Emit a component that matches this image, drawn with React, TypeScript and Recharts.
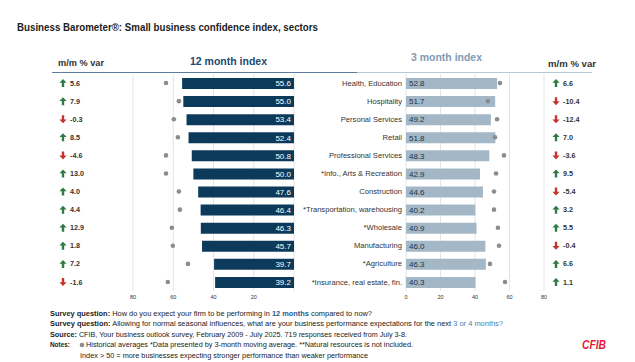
import { ComposedChart, Bar, Line, XAxis, YAxis, CartesianGrid, LabelList } from 'recharts'

// sectors, top to bottom
const categories = [
  'Health, Education',
  'Hospitality',
  'Personal Services',
  'Retail',
  'Professional Services',
  '*Info., Arts & Recreation',
  'Construction',
  '*Transportation, warehousing',
  '*Wholesale',
  'Manufacturing',
  '*Agriculture',
  '*Insurance, real estate, fin.',
]
const index12 = [55.6, 55.0, 53.4, 52.4, 50.8, 50.0, 47.6, 46.4, 46.3, 45.7, 39.7, 39.2]
const hist12 = [63.6, 57.2, 59.7, 57.7, 63.6, 63.6, 57.2, 56.7, 60.7, 60.2, 52.7, 62.7]
const mm12 = [5.6, 7.9, -0.3, 8.5, -4.6, 13.0, 4.0, 4.4, 12.9, 1.8, 7.2, -1.6]
const index3 = [52.8, 51.7, 49.2, 51.8, 48.3, 42.9, 44.6, 40.2, 40.9, 46.0, 46.3, 40.3]
const hist3 = [54.5, 47.5, 52.8, 51.6, 56.8, 52.2, 51.0, 51.0, 53.3, 53.9, 48.7, 57.4]
const mm3 = [6.6, -10.4, -12.4, 7.0, -3.6, 9.5, -5.4, 3.2, 5.5, -0.4, 6.6, 1.1]
const xTicks = [0, 20, 40, 60, 80]

const rows = categories.map((name, i) => ({
  name,
  idx12: index12[i],
  hist12: hist12[i],
  idx3: index3[i],
  hist3: hist3[i],
}))

const GREEN = '#2f7a45'
const RED = '#c4342b'
const FONT = '"Liberation Sans", Arial, sans-serif'

function Arrow({ cx, cy, up }: { cx: number; cy: number; up: boolean }) {
  const s = up ? -1 : 1
  const d = `M${cx - 3.6},${cy + s * 0.2} L${cx},${cy + s * 4} L${cx + 3.6},${cy + s * 0.2} L${cx + 1.2},${cy + s * 0.2} L${cx + 1.2},${cy - s * 4} L${cx - 1.2},${cy - s * 4} L${cx - 1.2},${cy + s * 0.2} Z`
  return <path d={d} fill={up ? GREEN : RED} />
}

function mmTick(values: number[], arrowX: number, textX: number) {
  return (props: any) => {
    const { y, payload } = props
    const i = categories.indexOf(payload.value)
    const v = values[i]
    return (
      <g>
        <Arrow cx={arrowX} cy={y} up={v >= 0} />
        <text x={textX} y={y + 2.6} fontSize={7.2} fontWeight="bold" fill="#333" fontFamily={FONT}>
          {v.toFixed(1)}
        </text>
      </g>
    )
  }
}

const catTick = (props: any) => {
  const { y, payload } = props
  return (
    <text x={122} y={y + 2.6} textAnchor="end" fontSize={7.6} fill="#333" fontFamily={FONT}>
      {payload.value}
    </text>
  )
}

const leftLabel = (props: any) => {
  const { x, y, width, height, value } = props
  const right = Math.max(x, x + width)
  return (
    <text x={right - 3} y={y + height / 2 + 2.8} textAnchor="end" fontSize={8} fill="#fff" fontFamily={FONT}>
      {Number(value).toFixed(1)}
    </text>
  )
}

const rightLabel = (props: any) => {
  const { x, y, width, height, value } = props
  const left = Math.min(x, x + width)
  return (
    <text x={left + 3} y={y + height / 2 + 2.8} fontSize={8} fill="#1d3347" fontFamily={FONT}>
      {Number(value).toFixed(1)}
    </text>
  )
}

const axisTick = { fontSize: 5.5, fill: '#333', fontFamily: FONT }

export default function App() {
  return (
    <div style={{ position: 'absolute', left: 0, top: 0, width: 635, height: 362, background: '#fff', overflow: 'hidden' }}>
      <svg width={635} height={362} style={{ position: 'absolute', left: 0, top: 0 }}>
        <text x={17} y={31} fontSize={11} fontWeight="bold" fill="#222" fontFamily={FONT} textLength={301} lengthAdjust="spacingAndGlyphs">
          Business Barometer®: Small business confidence index, sectors
        </text>
        <text x={58} y={66} fontSize={8.5} fontWeight="bold" fill="#333" fontFamily={FONT} textLength={46} lengthAdjust="spacingAndGlyphs">m/m % var</text>
        <text x={548} y={67} fontSize={8.5} fontWeight="bold" fill="#333" fontFamily={FONT} textLength={48} lengthAdjust="spacingAndGlyphs">m/m % var</text>
        <text x={190} y={65} fontSize={11} fontWeight="bold" fill="#1c4a72" fontFamily={FONT} textLength={77} lengthAdjust="spacingAndGlyphs">12 month index</text>
        <text x={411} y={61} fontSize={11} fontWeight="bold" fill="#7d9ab3" fontFamily={FONT} textLength={71} lengthAdjust="spacingAndGlyphs">3 month index</text>
        <line x1={52} x2={357} y1={72.5} y2={72.5} stroke="#5b7ea0" strokeWidth={1.2} />
        <line x1={357} x2={592} y1={72.5} y2={72.5} stroke="#b8c7d6" strokeWidth={1.2} />

        <g fontFamily={FONT} fontSize={6.4} fill="#222">
          <text x={50} y={315.5} textLength={322} lengthAdjust="spacingAndGlyphs">
            <tspan fontWeight="bold">Survey question:</tspan> How do you expect your firm to be performing in <tspan fill="#1f5a8a" fontWeight="bold">12 months</tspan> compared to now?
          </text>
          <text x={50} y={326} textLength={453} lengthAdjust="spacingAndGlyphs">
            <tspan fontWeight="bold">Survey question:</tspan> Allowing for normal seasonal influences, what are your business performance expectations for the next <tspan fill="#4a7fb5">3 or 4 months?</tspan>
          </text>
          <text x={50} y={336.5} textLength={357} lengthAdjust="spacingAndGlyphs">
            <tspan fontWeight="bold">Source:</tspan> CFIB, Your business outlook survey, February 2009 - July 2025. 719 responses received from July 3-8.
          </text>
          <text x={50} y={347} fontWeight="bold">Notes:</text>
          <circle cx={82} cy={345} r={2.3} fill="#8c8c8c" />
          <text x={86} y={347} textLength={327} lengthAdjust="spacingAndGlyphs">
            Historical averages *Data presented by 3-month moving average. **Natural resources is not included.
          </text>
          <text x={80} y={357.5} textLength={288} lengthAdjust="spacingAndGlyphs">
            Index &gt; 50 = more businesses expecting stronger performance than weaker performance
          </text>
        </g>
        <text x={582} y={348.5} fontSize={12} fontWeight="bold" fontStyle="italic" fill="#e31b3a" fontFamily={FONT} textLength={24} lengthAdjust="spacingAndGlyphs">CFIB</text>
      </svg>

      <div style={{ position: 'absolute', left: 0, top: 0 }}>
        <ComposedChart layout="vertical" width={300} height={362} data={rows} margin={{ top: 74, right: 6, bottom: 57, left: 0 }}>
          <CartesianGrid horizontal={false} stroke="#e4e4e4" />
          <XAxis type="number" domain={[0, 80]} ticks={xTicks} reversed axisLine={false} tickLine={false} tickSize={0} tickMargin={4} height={14} tick={axisTick} tickFormatter={(v: number) => (v === 0 ? '' : String(v))} />
          <YAxis type="category" dataKey="name" width={133} axisLine={false} tickLine={false} interval={0} tick={mmTick(mm12, 63, 70)} />
          <Bar dataKey="idx12" fill="#0c3a5b" barSize={11} isAnimationActive={false}>
            <LabelList dataKey="idx12" content={leftLabel} />
          </Bar>
          <Line dataKey="hist12" stroke="transparent" strokeWidth={0} dot={{ r: 2.3, fill: '#8c8c8c', stroke: 'none' }} activeDot={false} isAnimationActive={false} />
        </ComposedChart>
      </div>

      <div style={{ position: 'absolute', left: 280, top: 0 }}>
        <ComposedChart layout="vertical" width={355} height={362} data={rows} margin={{ top: 74, right: 41, bottom: 57, left: 0 }}>
          <CartesianGrid horizontal={false} stroke="#e4e4e4" yAxisId="cat" />
          <XAxis type="number" domain={[0, 80]} ticks={xTicks} axisLine={false} tickLine={false} tickSize={0} tickMargin={4} height={14} tick={axisTick} />
          <YAxis yAxisId="cat" type="category" dataKey="name" width={126} axisLine={false} tickLine={false} interval={0} tick={catTick} />
          <YAxis yAxisId="mm" orientation="right" type="category" dataKey="name" width={50} axisLine={false} tickLine={false} interval={0} tick={mmTick(mm3, 276, 283)} />
          <Bar yAxisId="cat" dataKey="idx3" fill="#a3b7c6" barSize={11} isAnimationActive={false}>
            <LabelList dataKey="idx3" content={rightLabel} />
          </Bar>
          <Line yAxisId="mm" dataKey="hist3" stroke="transparent" strokeWidth={0} dot={{ r: 2.3, fill: '#8c8c8c', stroke: 'none' }} activeDot={false} isAnimationActive={false} />
        </ComposedChart>
      </div>
    </div>
  )
}
